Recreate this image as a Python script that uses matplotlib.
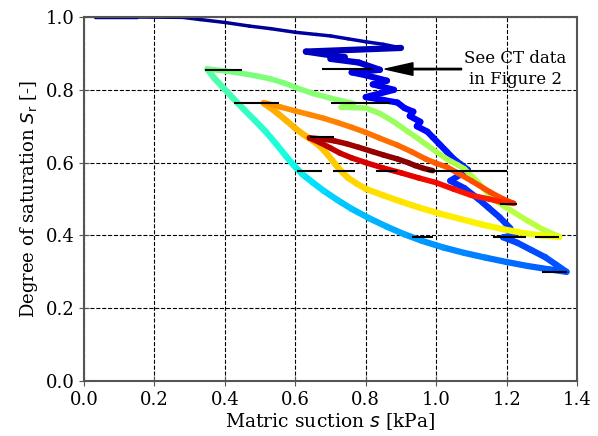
import numpy as np
import matplotlib.pyplot as plt
from matplotlib.collections import LineCollection

plt.rcParams['font.family'] = 'DejaVu Serif'
plt.rcParams['mathtext.fontset'] = 'dejavusans'

# --- Branches of the retention test (s in kPa, Sr in -) ---
# primary drainage (with the Haines-jump teeth)
drain1_s = [0.03, 0.15, 0.28, 0.33, 0.40, 0.47, 0.53, 0.60, 0.66, 0.70, 0.75, 0.80,
            0.85, 0.90, 0.63, 0.70, 0.74, 0.70, 0.78, 0.84, 0.76, 0.80, 0.86, 0.82,
            0.88, 0.80, 0.85, 0.89, 0.91, 0.935, 0.925, 0.955, 0.945, 0.975, 0.99, 1.01,
            1.03, 1.05, 1.07, 1.09, 1.04, 1.08, 1.12, 1.15, 1.18, 1.21, 1.22, 1.19,
            1.23, 1.27, 1.31, 1.34, 1.37]
drain1_sr = [1.0, 1.0, 0.999, 0.993, 0.985, 0.975, 0.968, 0.958, 0.952, 0.948, 0.94, 0.932,
             0.925, 0.915, 0.905, 0.895, 0.89, 0.885, 0.875, 0.855, 0.848, 0.84, 0.825, 0.815,
             0.80, 0.78, 0.772, 0.765, 0.75, 0.74, 0.728, 0.712, 0.70, 0.685, 0.67, 0.65,
             0.63, 0.61, 0.595, 0.58, 0.55, 0.53, 0.50, 0.475, 0.45, 0.42, 0.40, 0.395,
             0.38, 0.36, 0.34, 0.32, 0.30]
# first wetting
wet1_s = [1.37, 1.32, 1.26, 1.20, 1.14, 1.08, 1.02, 0.96, 0.91, 0.86, 0.81, 0.76,
          0.72, 0.68, 0.65, 0.62, 0.595, 0.57, 0.545, 0.515, 0.485, 0.455, 0.425, 0.395,
          0.37, 0.35]
wet1_sr = [0.300, 0.307, 0.316, 0.327, 0.339, 0.352, 0.367, 0.385, 0.403, 0.424, 0.447, 0.473,
           0.497, 0.523, 0.545, 0.568, 0.593, 0.622, 0.652, 0.686, 0.716, 0.745, 0.775, 0.806,
           0.832, 0.857]
# second drainage
drain2_s = [0.35, 0.40, 0.443, 0.49, 0.53, 0.57, 0.605, 0.65, 0.70, 0.74, 0.765, 0.73,
            0.80, 0.84, 0.88, 0.92, 0.95, 0.974, 1.00, 1.03, 1.06, 1.08, 1.12, 1.16,
            1.21, 1.26, 1.30, 1.35]
drain2_sr = [0.857, 0.852, 0.846, 0.838, 0.83, 0.818, 0.805, 0.79, 0.777, 0.768, 0.762, 0.752,
             0.75, 0.735, 0.712, 0.685, 0.665, 0.648, 0.63, 0.61, 0.594, 0.583, 0.545, 0.50,
             0.47, 0.44, 0.418, 0.396]
# second wetting
wet2_s = [1.35, 1.30, 1.25, 1.19, 1.13, 1.07, 1.01, 0.95, 0.90, 0.85, 0.80, 0.775,
          0.75, 0.735, 0.72, 0.705, 0.69, 0.67, 0.65, 0.625, 0.60, 0.575, 0.55, 0.53, 0.51]
wet2_sr = [0.396, 0.40, 0.406, 0.417, 0.43, 0.445, 0.46, 0.477, 0.493, 0.51, 0.528, 0.542,
           0.558, 0.572, 0.588, 0.606, 0.624, 0.645, 0.66, 0.676, 0.694, 0.715, 0.735, 0.75, 0.763]
# third drainage
drain3_s = [0.51, 0.557, 0.60, 0.64, 0.68, 0.72, 0.76, 0.80, 0.84, 0.89, 0.93, 0.97,
            1.00, 1.03, 1.06, 1.10, 1.153, 1.19, 1.22]
drain3_sr = [0.765, 0.753, 0.742, 0.732, 0.722, 0.71, 0.697, 0.683, 0.667, 0.648, 0.63, 0.61,
             0.598, 0.588, 0.572, 0.55, 0.519, 0.50, 0.488]
# third wetting
wet3_s = [1.22, 1.18, 1.15, 1.10, 1.05, 1.00, 0.95, 0.90, 0.85, 0.80, 0.76, 0.727,
          0.70, 0.67, 0.64]
wet3_sr = [0.488, 0.493, 0.50, 0.51, 0.527, 0.545, 0.558, 0.572, 0.585, 0.60, 0.613, 0.626,
           0.64, 0.655, 0.668]
# fourth drainage
drain4_s = [0.64, 0.675, 0.71, 0.745, 0.78, 0.82, 0.85, 0.89, 0.92, 0.94, 0.965, 0.99]
drain4_sr = [0.668, 0.665, 0.66, 0.652, 0.642, 0.63, 0.621, 0.61, 0.60, 0.592, 0.584, 0.578]

# CT scan states: suction and its spread
ct_s = [0.397, 0.491, 0.641, 0.738, 0.676, 0.748, 0.785, 0.86, 1.0875, 1.205, 0.96, 1.207, 1.315, 1.335]
ct_sr = [0.855, 0.763, 0.578, 0.578, 0.67, 0.857, 0.763, 0.578, 0.578, 0.487, 0.395, 0.395, 0.395, 0.30]
ct_ds = [0.053, 0.064, 0.036, 0.032, 0.034, 0.072, 0.085, 0.03, 0.1125, 0.025, 0.03, 0.047, 0.035, 0.035]

branches = [
    (drain1_s, drain1_sr, (0.00, 0.21), 4.5),
    (wet1_s, wet1_sr, (0.21, 0.45), 4.5),
    (drain2_s, drain2_sr, (0.49, 0.58), 4.0),
    (wet2_s, wet2_sr, (0.64, 0.73), 4.5),
    (drain3_s, drain3_sr, (0.75, 0.84), 4.0),
    (wet3_s, wet3_sr, (0.87, 0.95), 4.0),
    (drain4_s, drain4_sr, (0.96, 1.00), 4.0),
]

fig, ax = plt.subplots(figsize=(5.98, 4.36), dpi=100)
fig.subplots_adjust(left=0.1405, right=0.965, bottom=0.126, top=0.961)

for k, (s, sr, (c0, c1), lw) in enumerate(branches):
    pts = np.column_stack([s, sr])
    segs = np.stack([pts[:-1], pts[1:]], axis=1)
    cols = plt.cm.jet(np.linspace(c0, c1, len(segs)))
    widths = np.full(len(segs), lw)
    if k == 0:
        widths[:13] = 2.5   # thin start of the primary drainage
    lc = LineCollection(segs, colors=cols, linewidths=widths, capstyle='round',
                        joinstyle='round', zorder=2 + k * 0.1)
    ax.add_collection(lc)

ax.errorbar(ct_s, ct_sr, xerr=ct_ds, fmt='none', ecolor='k', elinewidth=1.5,
            capsize=0, zorder=4)

ax.annotate('See CT data\nin Figure 2', xy=(0.855, 0.857), xytext=(1.225, 0.857),
            ha='center', va='center', fontsize=12, linespacing=1.35,
            arrowprops=dict(facecolor='black', edgecolor='black', width=1,
                            headwidth=9, headlength=20, shrink=0))

ax.set_xlim(0, 1.4)
ax.set_ylim(0, 1.0)
ax.set_xticks(np.arange(0, 1.41, 0.2))
ax.set_yticks(np.arange(0, 1.01, 0.2))
ax.grid(True, color='k', linestyle='--', linewidth=0.8)
ax.set_axisbelow(True)
ax.tick_params(direction='inout', length=7, color='#555555', labelsize=13)
for sp in ax.spines.values():
    sp.set_color('#555555')
    sp.set_linewidth(1.5)

ax.set_xlabel('Matric suction $s$ [kPa]', fontsize=13.5, labelpad=2)
ax.set_ylabel('Degree of saturation $S_\\mathrm{r}$ [-]', fontsize=13)

plt.savefig('out.png', dpi=100)
